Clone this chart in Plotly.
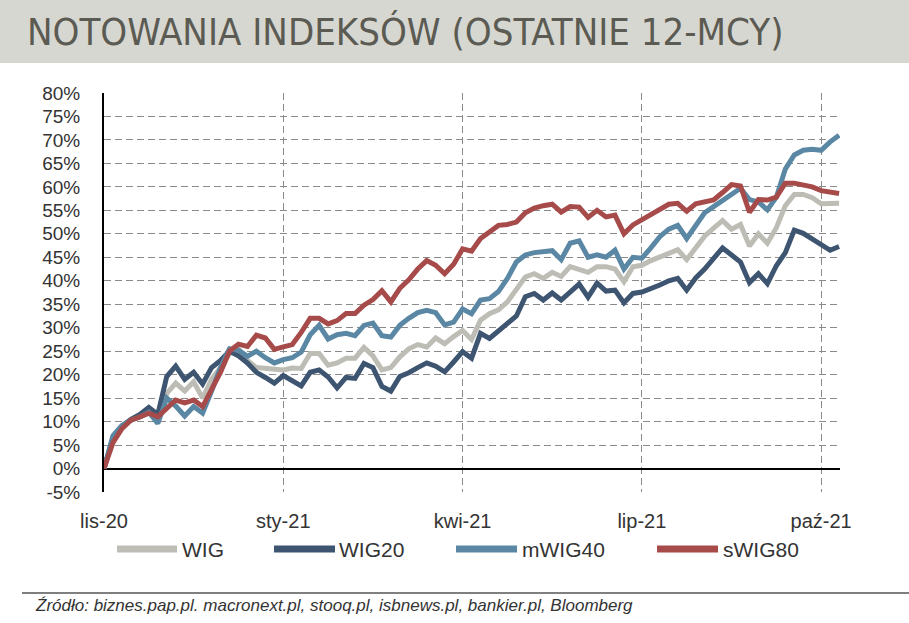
import plotly.graph_objects as go

# trading-session index (about every 3rd session, Nov 2020 - Oct 2021)
day = list(range(0, 247, 3))

wig = [0, 6.5, 9, 10.3, 11.5, 12.5, 10.5, 16, 18.2, 16.5, 18.5, 15, 19, 21.5, 24.5, 25.5,
       23, 21.5, 21.4, 21.3, 21, 21.4, 21.3, 24.5, 24.5, 22, 22.5, 23.5, 23.5, 25.8, 24, 21,
       21.5, 23.8, 25.5, 26.4, 25.9, 27.8, 26.6, 28.1, 29.4, 27.5, 31.6, 33, 33.8, 35.5, 38.3,
       40.8, 41.5, 40.5, 41.8, 40.9, 43, 42.3, 41.8, 43, 43, 42.5, 39.8, 43, 43.3, 44.3, 45.1,
       45.8, 46.6, 44.5, 46.8, 49.5, 51.2, 52.8, 51, 52, 47.4, 50, 48, 51.3, 56, 58.4, 58.4,
       57.7, 56.4, 56.4, 56.5]

wig20 = [0, 6.5, 9, 10.5, 11.5, 13.0, 11.5, 19.6, 21.8, 19.0, 20.5, 18, 21.5, 23.0, 25, 24,
         22.5, 20.5, 19.4, 18.2, 19.8, 18.6, 17.6, 20.5, 21, 19.5, 17.2, 19.4, 19.2, 22.4, 21.5,
         17.5, 16.5, 19.6, 20.4, 21.5, 22.5, 21.8, 20.6, 22.7, 24.9, 23.5, 28.8, 27.7, 29.2, 30.8,
         32.5, 36.6, 37.3, 35.9, 37.4, 35.9, 37.5, 39.3, 36.5, 39.5, 37.8, 38, 35.3, 37.3, 37.6,
         38.3, 39.1, 40, 40.5, 38, 40.6, 42.5, 44.8, 47, 45.5, 44, 39.6, 41.5, 39.4, 43.2, 46,
         50.8, 50.1, 48.8, 47.8, 46.5, 47.3]

mwig40 = [0, 7, 9.2, 10.3, 11, 12, 9.6, 15, 13.3, 11.2, 13.2, 11.8, 16.5, 21.5, 25.5, 25.2,
          23.9, 25, 23.6, 22.5, 23.2, 23.6, 24.8, 28.5, 30.5, 27.6, 28.5, 28.8, 28.3, 30.5, 31,
          28.3, 28, 30.5, 32, 33.2, 33.7, 33.2, 30.6, 31.2, 34, 33, 35.9, 36.2, 37.7, 40.5, 44,
          45.5, 46, 46.2, 46.4, 44.5, 48, 48.5, 45, 45.5, 45, 46.5, 42.5, 45, 44.8, 47, 49.4, 51,
          51.8, 49, 51.6, 54.5, 55.8, 57, 58.3, 59.7, 57.3, 56.8, 55.1, 57.8, 63.8, 66.8, 67.8,
          68, 67.8, 69.6, 71]

swig80 = [0, 5.5, 8.5, 10.3, 11, 11.8, 11, 12.8, 14.6, 14, 14.6, 13.2, 17, 20.5, 25, 26.5,
          26, 28.4, 27.8, 25.4, 25.9, 26.4, 29, 32, 32, 30.8, 31.5, 33, 33, 34.8, 36, 37.9, 35.5,
          38.4, 40.2, 42.5, 44.3, 43.3, 41.5, 43.5, 46.8, 46.3, 49, 50.3, 51.8, 52, 52.5, 54.5,
          55.5, 56, 56.3, 54.6, 55.8, 55.7, 53.5, 55, 53.6, 54, 50, 51.9, 53, 54.4, 55.5, 56.3,
          56.5, 54.8, 56.4, 56.8, 57.2, 58.8, 60.5, 60.2, 54.6, 57.3, 57.2, 57.8, 60.8, 60.8,
          60.5, 60, 59.2, 59, 58.6]

series_names = ["WIG", "WIG20", "mWIG40", "sWIG80"]
series_colors = ["#bdbdb5", "#3e5571", "#5a87a3", "#a64b4a"]

tick_days = [0, 60, 120, 180, 240]
tick_text = ["lis-20", "sty-21", "kwi-21", "lip-21", "paź-21"]
y_ticks = list(range(-5, 81, 5))
y_text = [f"{v}%" for v in y_ticks]

W, H = 909, 623
L, R, T, B = 104, 69, 93, 131
pw, ph = W - L - R, H - T - B


def px(x):
    return (x - L) / pw


def py(y):
    return (H - B - y) / ph


fig = go.Figure()
for name, vals, col in zip(series_names, [wig, wig20, mwig40, swig80], series_colors):
    fig.add_trace(go.Scatter(x=day, y=vals, mode="lines", name=name,
                             line=dict(color=col, width=5), showlegend=False))

grid = dict(showgrid=True, gridcolor="#8a8a8a", gridwidth=1.3, griddash="7px,4px")
tickfont = dict(family="Liberation Sans, Arial, sans-serif", size=20, color="#333333")

fig.update_layout(
    width=W, height=H,
    margin=dict(l=L, r=R, t=T, b=B),
    paper_bgcolor="white", plot_bgcolor="white",
    title=dict(text="NOTOWANIA INDEKSÓW (OSTATNIE 12-MCY)",
               x=27 / W, xanchor="left", y=1 - 32 / H, yanchor="middle",
               xref="container", yref="container",
               font=dict(family="DejaVu Sans Condensed, Liberation Sans Narrow, sans-serif",
                         size=38, color="#5b5b53")),
    xaxis=dict(range=[0, 246.3], tickvals=tick_days, ticktext=tick_text,
               zeroline=False, showline=False, ticks="outside", ticklen=11,
               tickcolor="rgba(0,0,0,0)", tickfont=tickfont, **grid),
    yaxis=dict(range=[-5, 80], tickvals=y_ticks, ticktext=y_text,
               zeroline=True, zerolinecolor="black", zerolinewidth=2,
               showline=True, linecolor="black", linewidth=2,
               ticks="outside", ticklen=18, tickcolor="rgba(0,0,0,0)",
               tickfont=dict(family="Liberation Sans, Arial, sans-serif", size=19, color="#333333"),
               **grid),
)

shapes = [
    dict(type="rect", xref="paper", yref="paper", x0=px(0), x1=px(W), y0=py(63), y1=py(0),
         fillcolor="#d7d7d1", line=dict(width=0), layer="below"),
    dict(type="line", xref="paper", yref="paper", x0=px(22), x1=px(W), y0=py(593), y1=py(593),
         line=dict(color="#555555", width=1.5)),
]
annotations = [
    dict(xref="paper", yref="paper", x=px(33), y=py(605), xanchor="left", yanchor="middle",
         text="<i>Źródło: biznes.pap.pl. macronext.pl, stooq.pl, isbnews.pl, bankier.pl, Bloomberg</i>",
         showarrow=False, font=dict(family="Liberation Sans, Arial, sans-serif", size=17, color="#333333")),
]

legend_pos = [(117, 177, 180), (274, 335, 337), (456, 517, 520), (657, 718, 721)]
for (a, b, t), name, col in zip(legend_pos, series_names, series_colors):
    shapes.append(dict(type="line", xref="paper", yref="paper", x0=px(a), x1=px(b),
                       y0=py(549), y1=py(549), line=dict(color=col, width=7)))
    annotations.append(dict(xref="paper", yref="paper", x=px(t), y=py(549), xanchor="left",
                            yanchor="middle", text=name, showarrow=False,
                            font=dict(family="Liberation Sans, Arial, sans-serif", size=21,
                                      color="#333333")))

fig.update_layout(shapes=shapes, annotations=annotations)

fig.write_html("out.html", config={"displayModeBar": False},
               post_script="document.body.style.margin='0';")
